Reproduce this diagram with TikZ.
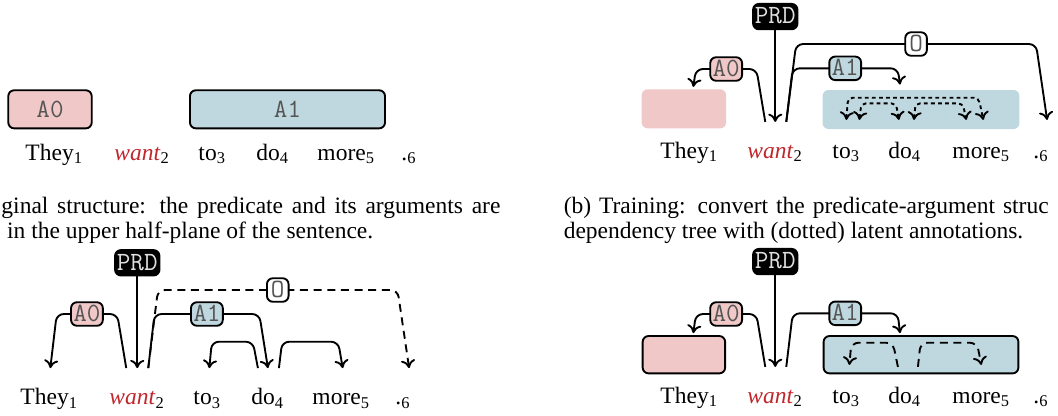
\documentclass[tikz,border=0pt]{standalone}
\usepackage{fontspec}
\setmainfont{Liberation Serif}
\usetikzlibrary{arrows.meta,positioning,calc}
\definecolor{argzero}{RGB}{240,200,200}
\definecolor{argone}{RGB}{191,215,222}
\definecolor{predred}{RGB}{192,39,45}
\definecolor{labgray}{RGB}{85,85,85}
\tikzset{
    word/.style={anchor=base west, inner sep=0pt, text height=15.3pt, text depth=0pt},
    lbl/.style={draw, solid, line width=0.8pt, rounded corners=2.5pt, inner xsep=1pt, inner ysep=0pt,
        minimum width=9.2pt, minimum height=10pt, text height=6.2pt, text depth=0pt,
        font=\ttfamily\fontsize{11.2}{12}\selectfont, text=labgray},
    prd/.style={lbl, fill=black, text=black!12, inner xsep=0.8pt, minimum height=10.8pt},
    argbox/.style={draw, line width=0.8pt, rounded corners=2.5pt, minimum height=16.2pt,
        font=\ttfamily\fontsize{11.2}{12}\selectfont, text=labgray},
    span/.style={rounded corners=2.5pt, minimum height=16.6pt, inner sep=0pt},
    boxed/.style={span, draw, line width=0.8pt, minimum height=15.9pt},
    dep/.style={line width=0.8pt, rounded corners=3pt, -{To[length=3.5pt,width=6pt]}},
    latent/.style={dep, rounded corners=2pt, {To[length=3.5pt,width=6pt]}-{To[length=3.5pt,width=6pt]}, dash pattern=on 1.6pt off 1.4pt},
    cand/.style={dep, dash pattern=on 3.4pt off 2.4pt}
}
\begin{document}
\begin{tikzpicture}[x=0.4255pt, y=-0.4255pt]
    \useasboundingbox (0,0) rectangle (1058,415);

    \node[word] (a1) at (25,160) {They\textsubscript{1}};
    \node[word] (a2) at (114,160) {\textcolor{predred}{\textit{want}}\textsubscript{2}};
    \node[word] (a3) at (198,160) {to\textsubscript{3}};
    \node[word] (a4) at (256,160) {do\textsubscript{4}};
    \node[word] (a5) at (317,160) {more\textsubscript{5}};
    \node[word] (a6) at (401,160) {.\textsubscript{6}};
    \node[argbox, fill=argzero, minimum width=35.5pt] (a0box) at (50,109.3) {A0};
    \node[argbox, fill=argone, minimum width=83pt] (a1box) at (287.5,109.3) {A1};

    \node[anchor=base west, inner sep=0pt] (capa) at (1,213.3) {\makebox[212.3pt][s]{ginal structure: the predicate and its arguments are}};
    \node[anchor=base west, inner sep=0pt] (capa2) at (6.7,238.3) {in the upper half-plane of the sentence.};

    \node[word] (b1) at (660,158.3) {They\textsubscript{1}};
    \node[word] (b2) at (747,158.3) {\textcolor{predred}{\textit{want}}\textsubscript{2}};
    \node[word] (b3) at (832,158.3) {to\textsubscript{3}};
    \node[word] (b4) at (888,158.3) {do\textsubscript{4}};
    \node[word] (b5) at (952,158.3) {more\textsubscript{5}};
    \node[word] (b6) at (1033,158.3) {.\textsubscript{6}};
    \node[span, fill=argzero, minimum width=35.9pt] (b0span) at (683.9,108.8) {};
    \node[span, fill=argone, minimum width=83.7pt] (b1span) at (921,109.5) {};
    \node[prd, above=39pt of b2.north] (bp) {PRD};
    \draw[dep] (bp) -- (b2.north);
    \draw[dep] ($(b2.north)+(-10,0)$) -- (756.4,69) -- node[lbl, fill=argzero] {A0} (695.9,69) -- ($(b0span.north)+(9.4,-2)$);
    \draw[dep] ($(b2.north)+(11,0)$) -- (792.7,68.3) -- node[lbl, fill=argone] {A1} (897.7,68.3) -- ($(b1span.north)+(-21,-5)$);
    \draw[dep] ($(b2.north)+(11,0)$) -- (796.1,44) -- node[lbl, fill=white] {O} (1036,44) -- ($(b6.north)+(6,-2)$);
    \draw[latent] ($(b3.north)+(0,-2)$) -- (848,97.7) -- (978.6,97.7) -- ($(b5.north)+(2,-2)$);
    \draw[latent] ($(b3.north)+(13,-2)$) -- (861.4,103.3) -- (895.9,103.3) -- ($(b4.north)+(-6,-2)$);
    \draw[latent] ($(b4.north)+(9,-2)$) -- (915.6,103.3) -- (962.7,103.3) -- ($(b5.north)+(-15,-2)$);

    \node[anchor=base west, inner sep=0pt] (capb) at (563.3,213.3) {\makebox[206.3pt][s]{(b) Training: convert the predicate-argument struc}};
    \node[anchor=base west, inner sep=0pt] (capb2) at (563.3,238.3) {dependency tree with (dotted) latent annotations.};

    \node[word] (c1) at (20,404.5) {They\textsubscript{1}};
    \node[word] (c2) at (109,404.5) {\textcolor{predred}{\textit{want}}\textsubscript{2}};
    \node[word] (c3) at (193,404.5) {to\textsubscript{3}};
    \node[word] (c4) at (251,404.5) {do\textsubscript{4}};
    \node[word] (c5) at (312,404.5) {more\textsubscript{5}};
    \node[word] (c6) at (395,404.5) {.\textsubscript{6}};
    \node[prd, above=39pt of c2.north] (cp) {PRD};
    \draw[dep] (cp) -- (c2.north);
    \draw[dep] ($(c2.north)+(-11,0)$) -- (117.2,314) -- node[lbl, fill=argzero] {A0} (56.7,314) -- ($(c1.north)+(1,0)$);
    \draw[dep] ($(c2.north)+(11,0)$) -- (154.5,314) -- node[lbl, fill=argone] {A1} (259.3,314) -- (c4.north);
    \draw[cand] ($(c2.north)+(11,0)$) -- (157.9,290) -- node[lbl, fill=white] {O} (397.6,290) -- ($(c6.north)+(6,0)$);
    \draw[dep] ($(c4.north)+(-10,0)$) -- (252.9,341.7) -- (211.8,341.7) -- ($(c3.north)+(2,0)$);
    \draw[dep] ($(c4.north)+(11,0)$) -- (282.1,341.7) -- (338.2,341.7) -- ($(c5.north)+(1.4,0)$);

    \node[word] (d1) at (660,403.3) {They\textsubscript{1}};
    \node[word] (d2) at (747,403.3) {\textcolor{predred}{\textit{want}}\textsubscript{2}};
    \node[word] (d3) at (832,403.3) {to\textsubscript{3}};
    \node[word] (d4) at (888,403.3) {do\textsubscript{4}};
    \node[word] (d5) at (952,403.3) {more\textsubscript{5}};
    \node[word] (d6) at (1033,403.3) {.\textsubscript{6}};
    \node[boxed, fill=argzero, minimum width=35.1pt] (d0span) at (683.9,354.7) {};
    \node[boxed, fill=argone, minimum width=82.9pt] (d1span) at (921,354.7) {};
    \node[prd, above=39pt of d2.north] (dp) {PRD};
    \draw[dep] (dp) -- (d2.north);
    \draw[dep] ($(d2.north)+(-10,0)$) -- (756.4,314) -- node[lbl, fill=argzero] {A0} (695.9,314) -- ($(d0span.north)+(9.4,-2)$);
    \draw[dep] ($(d2.north)+(11,0)$) -- (792.7,313.3) -- node[lbl, fill=argone] {A1} (897.7,313.3) -- ($(d1span.north)+(-21,-2)$);
    \draw[cand] ($(d4.north)+(-7,0)$) -- (892.9,342.7) -- (851.4,342.7) -- ($(d3.north)+(3,-2)$);
    \draw[cand] ($(d4.north)+(13,0)$) -- (920.5,342.7) -- (976.9,342.7) -- ($(d5.north)+(0,-2)$);
\end{tikzpicture}
\end{document}
